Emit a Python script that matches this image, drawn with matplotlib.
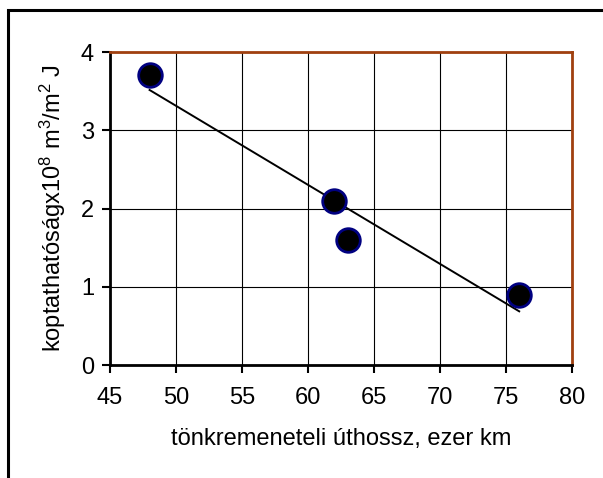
"""Koptathatóság vs tönkremeneteli úthossz, with linear trend line."""

import matplotlib
matplotlib.use("Agg")
import matplotlib.pyplot as plt
from matplotlib.patches import Rectangle
import numpy as np

plt.rcParams["font.family"] = ["Liberation Sans", "DejaVu Sans"]
plt.rcParams["mathtext.fontset"] = "custom"
plt.rcParams["mathtext.rm"] = "Liberation Sans"

# data
uthossz = [48, 62, 63, 76]          # ezer km
koptathatosag = [3.7, 2.1, 1.6, 0.9]  # x10^8 m^3/m^2 J

x_ticks = [45, 50, 55, 60, 65, 70, 75, 80]
y_ticks = [0, 1, 2, 3, 4]

x_label = "tönkremeneteli úthossz, ezer km"
y_label = r"koptathatóságx10$\mathregular{^8}$ m$\mathregular{^3}$/m$\mathregular{^2}$ J"

fig = plt.figure(figsize=(6.03, 4.78), dpi=100)

# outer chart frame (only left and top edges fall inside the picture)
fig.patches.append(Rectangle((0.0133, -0.1), 1.1, 1.079, transform=fig.transFigure,
                             fill=False, edgecolor="black", linewidth=2.2))

ax = fig.add_axes([0.1824, 0.2364, 0.7662, 0.6548])

# trend line
coef = np.polyfit(uthossz, koptathatosag, 1)
xs = np.array([min(uthossz), max(uthossz)])
ax.plot(xs, np.polyval(coef, xs), color="black", linewidth=1.4, zorder=3)

ax.plot(uthossz, koptathatosag, "o", markersize=17, markerfacecolor="black",
        markeredgecolor="#000080", markeredgewidth=2, zorder=4, clip_on=False)

ax.set_xlim(45, 80)
ax.set_ylim(0, 4)
ax.set_xticks(x_ticks)
ax.set_yticks(y_ticks)
ax.grid(True, color="black", linewidth=0.8)
ax.set_axisbelow(True)

for side in ("left", "bottom"):
    ax.spines[side].set_color("black")
    ax.spines[side].set_linewidth(2)
for side in ("top", "right"):
    ax.spines[side].set_color("#A0400F")
    ax.spines[side].set_linewidth(2)

ax.tick_params(axis="both", direction="out", length=5.5, width=1.5, labelsize=17)
ax.tick_params(axis="y", pad=6)
ax.tick_params(axis="x", pad=10)

ax.set_xlabel(x_label, fontsize=17)
ax.set_ylabel(y_label, fontsize=17)
ax.xaxis.set_label_coords(0.5, -0.2)
ax.yaxis.set_label_coords(-0.09, 0.5)

fig.savefig("out.png", dpi=100)
